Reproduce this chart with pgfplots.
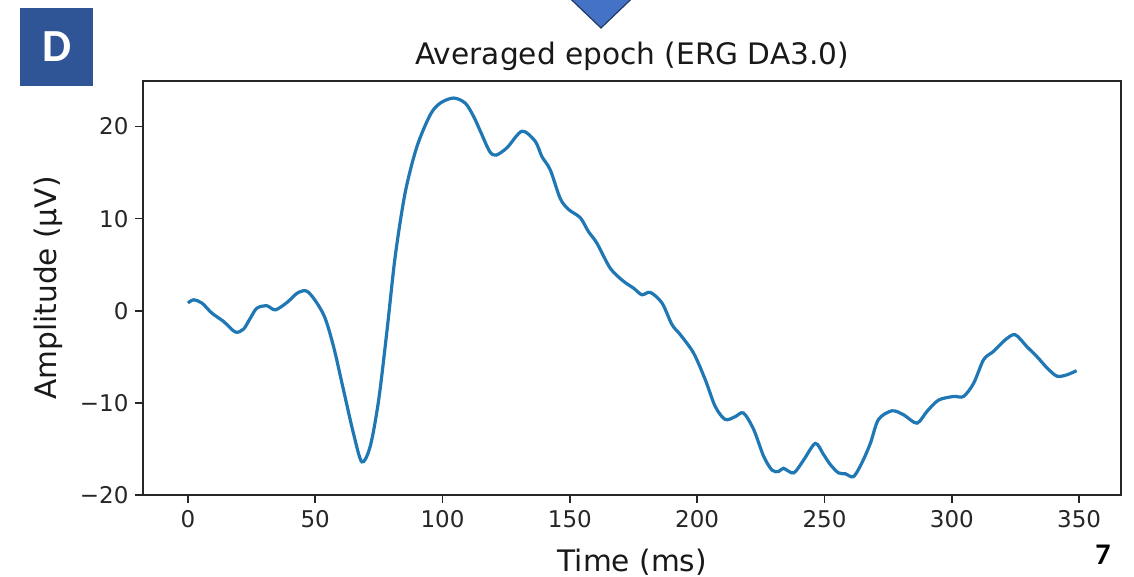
\documentclass[border=0pt]{standalone}
\usepackage{fontspec}
\setmainfont{DejaVu Sans}
\newfontfamily\carlito{Carlito}
\usepackage{pgfplots}
\pgfplotsset{compat=1.18}
\usepackage{pgfplotstable}
\definecolor{mplblue}{HTML}{1F77B4}
\definecolor{boxblue}{HTML}{2F5597}
\definecolor{triblue}{HTML}{4472C4}
\definecolor{tridark}{HTML}{203864}

\pgfplotstableread{
t v
0 0.84
2.2 1.19
5.5 0.84
9.4 -0.25
14 -1.16
18.6 -2.3
21.8 -2.0
24.5 -0.8
27.1 0.29
31 0.54
34.3 0.1
38.9 0.9
43.4 2.0
47.4 2.0
53.3 -0.43
57.2 -3.9
61.1 -8.6
65 -13.3
68.3 -16.4
71.6 -14.7
74.9 -9.7
78.2 -2.1
81.4 5.9
85.3 12.8
89.9 17.8
95.2 21.3
99.1 22.55
104.3 23.1
108.9 22.55
112.2 21.1
115 19.4
118.5 17.3
121 16.9
125.3 17.7
131.2 19.5
136.4 18.4
139 16.75
142.3 15.3
146.2 12.2
149.5 11.0
154.1 10.1
157.3 8.6
160.6 7.35
165.9 4.6
171.1 3.2
175 2.46
178.3 1.74
181.6 2.0
186.2 0.84
190.1 -1.5
193.4 -2.6
198.6 -4.6
203.2 -7.5
207.1 -10.4
211 -11.8
214.9 -11.5
218.2 -11.1
222.2 -12.9
226.1 -15.8
229.4 -17.3
232 -17.45
233.9 -17.1
237.9 -17.6
241.8 -16.2
246.4 -14.4
249.6 -15.6
252.3 -16.7
255.5 -17.6
258.2 -17.7
261.4 -18.0
264.7 -16.5
268 -14.4
271.2 -11.8
276.5 -10.86
281.1 -11.3
286.3 -12.2
290.3 -10.9
294.8 -9.7
300.7 -9.3
304.6 -9.3
308.6 -7.85
312.5 -5.3
316.4 -4.4
321 -3.15
324.9 -2.6
329.5 -3.9
333.5 -5.0
337.4 -6.2
341.3 -7.1
345.2 -6.95
349 -6.5
}\erg

\begin{document}
\begin{tikzpicture}
\begin{axis}[
  scale only axis,
  width=488.75pt, height=207pt,
  xmin=-17.45, xmax=366.45,
  ymin=-20, ymax=24.95,
  xtick={0,50,100,150,200,250,300,350},
  xticklabels={0,50,100,150,200,250,300,350},
  ytick={-20,-10,0,10,20},
  yticklabels={−20,−10,0,10,20},
  tick align=outside, tick pos=left,
  major tick length=4pt,
  every tick/.style={black!85, line width=0.8pt},
  axis line style={line width=1pt, black!85},
  tick label style={font=\fontsize{11.5}{13}\selectfont, text=black!85},
  title={Averaged epoch (ERG DA3.0)},
  title style={at={(axis description cs:0.5,1.0386)}, anchor=base, yshift=-5.5pt, font=\fontsize{14.8}{17}\selectfont, text=black!90, inner sep=0pt},
  xlabel={Time (ms)},
  xlabel style={at={(axis description cs:0.5,-0.1848)}, anchor=base, font=\fontsize{14.8}{17}\selectfont, text=black!90, inner sep=0pt},
  ylabel={Amplitude (µV)},
  ylabel style={at={(axis description cs:-0.0895,0.5)}, anchor=base, font=\fontsize{14.8}{17}\selectfont, text=black!90, inner sep=0pt},
]
\addplot[mplblue, line width=1.6pt, smooth] table[x=t,y=v]{\erg};
\end{axis}
\begin{scope}[x=0.5pt,y=-0.5pt,shift={(-71.75pt,247.5pt)}]
  \fill[boxblue] (20,8) rectangle (93,86);
  \node[text=white, font=\carlito\bfseries\fontsize{23}{26}\selectfont, inner sep=0pt] at (56.5,47) {D};
  \begin{scope}
    \clip (0,0) rectangle (1134,577);
    \draw[fill=triblue, draw=tridark, line width=0.6pt] (565.5,-6) -- (636.5,-6) -- (601,28) -- cycle;
    \node[anchor=base, font=\carlito\bfseries\fontsize{15}{17}\selectfont, inner sep=0pt] at (1103,565) {7};
  \end{scope}
  \pgfresetboundingbox
  \path[use as bounding box] (0,0) rectangle (1134,577);
\end{scope}
\end{tikzpicture}
\end{document}
